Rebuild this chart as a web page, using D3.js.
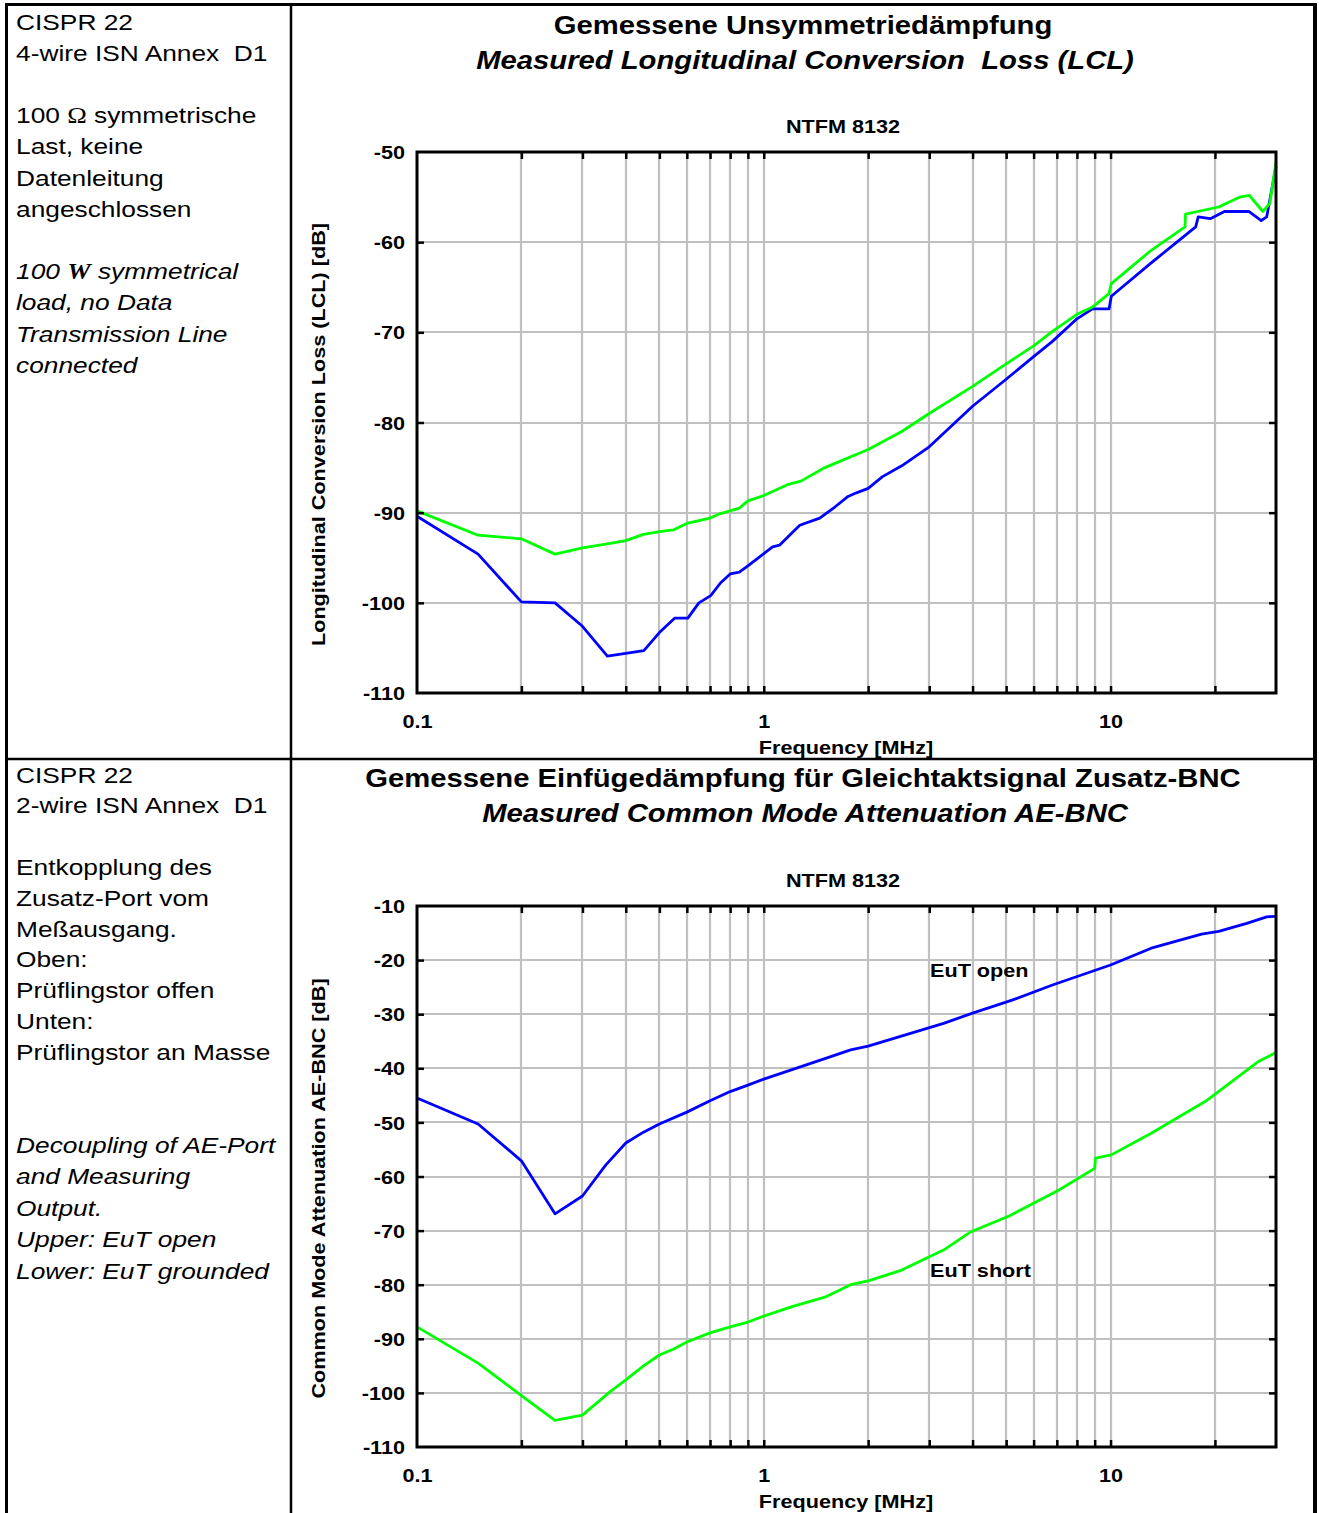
<!DOCTYPE html>
<html>
<head>
<meta charset="utf-8">
<script src="https://cdn.jsdelivr.net/npm/d3@7"></script>
<style>
  body { margin: 0; background: #fff; }
  svg { display: block; }
  text { font-family: "Liberation Sans", Arial, sans-serif; fill: #000; white-space: pre; }
</style>
</head>
<body>
<script>
// ---- data ----

// frequency axis [MHz]
var freqLabels = [0.1, 1, 10];

// upper plot: LCL, green trace
var lclGreenFreq = [0.1, 0.15, 0.2, 0.25, 0.3, 0.35, 0.4, 0.45, 0.5, 0.55, 0.6, 0.7, 0.75, 0.85, 0.9, 1.0, 1.17, 1.28, 1.5, 2, 2.5, 3, 4, 5, 6, 6.8, 8, 8.87, 9.9, 10.05, 13.1, 16.4, 16.45, 20.5, 23.6, 25.1, 27.5, 28.8, 30];
var lclGreenDb = [-89.8, -92.5, -92.9, -94.6, -93.9, -93.5, -93.1, -92.4, -92.1, -91.9, -91.2, -90.6, -90.1, -89.5, -88.7, -88.1, -86.9, -86.5, -85.0, -83.0, -81.0, -79.0, -76.0, -73.5, -71.5, -69.9, -68.0, -67.2, -65.7, -64.6, -60.9, -58.3, -56.9, -56.1, -55.0, -54.8, -56.6, -55.7, -51.1];

// upper plot: LCL, blue trace
var lclBlueFreq = [0.1, 0.15, 0.2, 0.25, 0.3, 0.354, 0.451, 0.5, 0.553, 0.604, 0.65, 0.703, 0.75, 0.8, 0.85, 0.9, 0.95, 1.06, 1.11, 1.27, 1.45, 1.6, 1.75, 1.85, 2.0, 2.2, 2.5, 3, 4, 5, 6, 6.8, 8, 8.87, 9.9, 10.05, 13.1, 17.6, 17.9, 19.4, 21.3, 25.1, 27.2, 28.2, 30];
var lclBlueDb = [-90.4, -94.6, -99.9, -100.0, -102.6, -105.9, -105.3, -103.3, -101.7, -101.7, -100.0, -99.2, -97.8, -96.8, -96.6, -95.9, -95.2, -93.8, -93.6, -91.4, -90.6, -89.4, -88.2, -87.8, -87.3, -86.0, -84.8, -82.7, -78.2, -75.2, -72.7, -71.0, -68.5, -67.4, -67.4, -66.0, -62.3, -58.3, -57.2, -57.4, -56.6, -56.6, -57.6, -57.2, -51.6];
var lclTicks = [-50, -60, -70, -80, -90, -100, -110];

// lower plot: common mode attenuation, EuT open (blue)
var eutOpenFreq = [0.1, 0.15, 0.2, 0.25, 0.3, 0.35, 0.4, 0.45, 0.5, 0.6, 0.7, 0.8, 0.9, 1.0, 1.5, 1.78, 2, 3.3, 4, 5.2, 6.8, 10, 13.1, 18.3, 20.5, 24.7, 28.2, 30];
var eutOpenDb = [-45.5, -50.3, -57.1, -66.9, -63.6, -57.9, -53.8, -51.8, -50.3, -48.1, -46.0, -44.3, -43.1, -42.0, -38.2, -36.6, -35.9, -31.7, -29.8, -27.4, -24.6, -20.9, -17.8, -15.2, -14.7, -13.2, -12.0, -11.9];

// lower plot: common mode attenuation, EuT short (green)
var eutShortFreq = [0.1, 0.15, 0.2, 0.25, 0.3, 0.36, 0.4, 0.45, 0.5, 0.55, 0.6, 0.7, 0.8, 0.9, 1.0, 1.2, 1.5, 1.78, 2, 2.5, 3.3, 3.96, 5.1, 7.1, 9.0, 9.05, 10.05, 13.1, 19.0, 26.6, 30];
var eutShortDb = [-87.8, -94.5, -100.5, -105.1, -104.1, -99.8, -97.6, -95.0, -93.0, -91.9, -90.6, -88.9, -87.8, -86.9, -85.8, -84.1, -82.3, -80.0, -79.3, -77.3, -73.6, -70.2, -67.3, -62.5, -58.5, -56.6, -56.0, -52.0, -45.9, -38.8, -37.1];
var attTicks = [-10, -20, -30, -40, -50, -60, -70, -80, -90, -100, -110];

// side notes
var notesTop = ['CISPR 22', '4-wire ISN Annex  D1', '', '100 \u03A9 symmetrische', 'Last, keine', 'Datenleitung', 'angeschlossen', '', '100 W symmetrical', 'load, no Data', 'Transmission Line', 'connected'];
var notesBottom = ['CISPR 22', '2-wire ISN Annex  D1', '', 'Entkopplung des', 'Zusatz-Port vom', 'Me\u00DFausgang.', 'Oben:', 'Pr\u00FCflingstor offen', 'Unten:', 'Pr\u00FCflingstor an Masse'];
var notesBottomEn = ['Decoupling of AE-Port', 'and Measuring', 'Output.', 'Upper: EuT open', 'Lower: EuT grounded'];

// ---- drawing ----
var width = 1319;
var height = 1513;

// the source glyphs are wider than Arial, so text is stretched along its run
var stretch = 1.17;

var blue = '#0000ff';
var green = '#00ff00';
var gridColor = '#c0c0c0';

var svg = d3.select('body')
  .append('svg')
  .attr('width', width)
  .attr('height', height);

function label(parent, str, x, y, size, opts) {
  opts = opts || {};
  var tr = 'translate(' + x + ',' + y + ')';
  if (opts.rotate) tr += ' rotate(' + opts.rotate + ')';
  tr += ' scale(' + stretch + ',1)';
  return parent.append('text')
    .attr('transform', tr)
    .attr('text-anchor', opts.anchor || 'start')
    .style('font-size', size + 'px')
    .style('font-weight', opts.bold ? 'bold' : 'normal')
    .style('font-style', opts.italic ? 'italic' : 'normal')
    .text(str);
}

// left column notes; the Ohm sign is set in a serif face like the source
function notes(lines, x, y0, lh, italicFrom) {
  var g = svg.append('g');
  lines.forEach(function (s, i) {
    if (!s) return;
    var t = label(g, '', x, y0 + i * lh, 22.5, { italic: i >= italicFrom });
    if (s.indexOf('100 ') === 0) {
      t.append('tspan').text('100 ');
      t.append('tspan')
        .style('font-family', '"Liberation Serif", "Times New Roman", serif')
        .style('font-weight', i >= italicFrom ? 'bold' : 'normal')
        .text(s.charAt(4));
      t.append('tspan').text(s.slice(5));
    } else {
      t.text(s);
    }
  });
}

notes(notesTop, 16, 29.5, 31.2, 8);
notes(notesBottom, 16, 782.5, 30.8, 99);
notes(notesBottomEn, 16, 1153, 31.4, 0);

function drawPanel(p) {
  var x = d3.scaleLog().domain([0.1, 30]).range([417, 1276]);
  var y = d3.scaleLinear().domain([p.ticks[p.ticks.length - 1], p.ticks[0]]).range([p.bottom, p.top]);

  var g = svg.append('g');
  var gridF = x.ticks().filter(function (f) { return f > 0.1 && f < 30; });
  var gridY = p.ticks.slice(1, -1);

  // grid
  g.append('g').selectAll('line')
    .data(gridF)
    .enter().append('line')
    .attr('x1', function (d) { return Math.round(x(d)); })
    .attr('x2', function (d) { return Math.round(x(d)); })
    .attr('y1', p.top)
    .attr('y2', p.bottom)
    .attr('stroke', gridColor)
    .attr('stroke-width', 2.2);

  g.append('g').selectAll('line')
    .data(gridY)
    .enter().append('line')
    .attr('x1', x.range()[0])
    .attr('x2', x.range()[1])
    .attr('y1', function (d) { return Math.round(y(d)); })
    .attr('y2', function (d) { return Math.round(y(d)); })
    .attr('stroke', gridColor)
    .attr('stroke-width', 2.2);

  // traces
  var line = d3.line()
    .x(function (d) { return x(d[0]); })
    .y(function (d) { return y(d[1]); });

  p.series.forEach(function (s) {
    g.append('path')
      .datum(d3.zip(s.freq, s.db))
      .attr('d', line)
      .attr('fill', 'none')
      .attr('stroke', s.color)
      .attr('stroke-width', 2.8)
      .attr('stroke-linejoin', 'round');
  });

  // inner tick marks on all four sides
  var inner = [
    { axis: d3.axisTop(x).tickValues(gridF), tr: 'translate(0,' + p.bottom + ')' },
    { axis: d3.axisBottom(x).tickValues(gridF), tr: 'translate(0,' + p.top + ')' },
    { axis: d3.axisRight(y).tickValues(gridY), tr: 'translate(' + x.range()[0] + ',0)' },
    { axis: d3.axisLeft(y).tickValues(gridY), tr: 'translate(' + x.range()[1] + ',0)' }
  ];
  inner.forEach(function (a) {
    var ax = g.append('g')
      .attr('transform', a.tr)
      .call(a.axis.tickSize(7).tickFormat(''));
    ax.select('.domain').remove();
    ax.selectAll('line').attr('stroke', '#000').attr('stroke-width', 2.5);
  });

  // frame
  g.append('rect')
    .attr('x', x.range()[0])
    .attr('y', p.top)
    .attr('width', x.range()[1] - x.range()[0])
    .attr('height', p.bottom - p.top)
    .attr('fill', 'none')
    .attr('stroke', '#000')
    .attr('stroke-width', 3);

  // tick labels
  var xAx = g.append('g')
    .attr('transform', 'translate(0,' + p.bottom + ')')
    .call(d3.axisBottom(x).tickValues(freqLabels).tickSize(0).tickFormat(function (d) { return d; }));
  xAx.select('.domain').remove();
  xAx.selectAll('text')
    .attr('y', 35)
    .attr('dy', null)
    .attr('transform', 'scale(' + stretch + ',1)')
    .style('font-size', '18.5px')
    .style('font-weight', 'bold');

  var yAx = g.append('g')
    .attr('transform', 'translate(' + x.range()[0] + ',0)')
    .call(d3.axisLeft(y).tickValues(p.ticks).tickSize(0).tickFormat(function (d) { return d; }));
  yAx.select('.domain').remove();
  yAx.selectAll('text')
    .attr('x', -12 / stretch)
    .attr('dy', '0.36em')
    .attr('transform', 'scale(' + stretch + ',1)')
    .style('font-size', '18.5px')
    .style('font-weight', 'bold');

  // titles
  label(svg, p.title, 803, p.titleY, 25, { bold: true, anchor: 'middle' });
  label(svg, p.titleEn, 805, p.titleY + 35, 25, { bold: true, italic: true, anchor: 'middle' });
  label(svg, 'NTFM 8132', 843, p.top - 19, 18.5, { bold: true, anchor: 'middle' });
  label(svg, p.yTitle, 325, (p.top + p.bottom) / 2 + 12, 18.5, { bold: true, anchor: 'middle', rotate: -90 });
  label(svg, 'Frequency [MHz]', 846, p.bottom + 61, 18.5, { bold: true, anchor: 'middle' });

  (p.notes || []).forEach(function (n) {
    label(svg, n.text, n.x, n.y, 18.5, { bold: true });
  });
}

drawPanel({
  top: 152,
  bottom: 693,
  ticks: lclTicks,
  titleY: 34,
  title: 'Gemessene Unsymmetried\u00E4mpfung',
  titleEn: 'Measured Longitudinal Conversion  Loss (LCL)',
  yTitle: 'Longitudinal Conversion Loss (LCL) [dB]',
  series: [
    { freq: lclBlueFreq, db: lclBlueDb, color: blue },
    { freq: lclGreenFreq, db: lclGreenDb, color: green }
  ]
});

drawPanel({
  top: 906,
  bottom: 1447,
  ticks: attTicks,
  titleY: 787,
  title: 'Gemessene Einf\u00FCged\u00E4mpfung f\u00FCr Gleichtaktsignal Zusatz-BNC',
  titleEn: 'Measured Common Mode Attenuation AE-BNC',
  yTitle: 'Common Mode Attenuation AE-BNC [dB]',
  series: [
    { freq: eutOpenFreq, db: eutOpenDb, color: blue },
    { freq: eutShortFreq, db: eutShortDb, color: green }
  ],
  notes: [
    { text: 'EuT open', x: 930, y: 977 },
    { text: 'EuT short', x: 930, y: 1277 }
  ]
});

// table borders
var borders = [
  { x1: 6.5, y1: 3, x2: 6.5, y2: height, w: 3 },
  { x1: 1315, y1: 3, x2: 1315, y2: height, w: 4 },
  { x1: 5, y1: 4.5, x2: 1317, y2: 4.5, w: 3 },
  { x1: 291, y1: 3, x2: 291, y2: height, w: 2.5 },
  { x1: 5, y1: 759, x2: 1317, y2: 759, w: 2.5 }
];
svg.append('g').selectAll('line')
  .data(borders)
  .enter().append('line')
  .attr('x1', function (d) { return d.x1; })
  .attr('y1', function (d) { return d.y1; })
  .attr('x2', function (d) { return d.x2; })
  .attr('y2', function (d) { return d.y2; })
  .attr('stroke', '#000')
  .attr('stroke-width', function (d) { return d.w; });
</script>
</body>
</html>
